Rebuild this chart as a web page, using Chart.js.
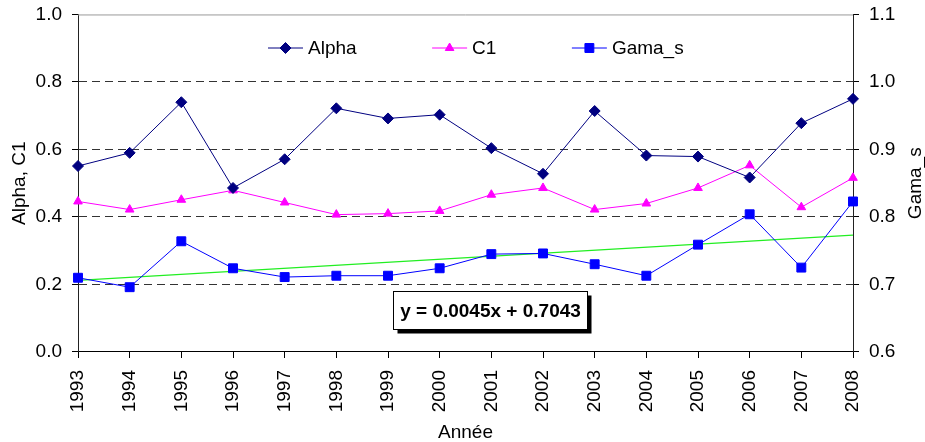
<!DOCTYPE html>
<html>
<head>
<meta charset="utf-8">
<script src="https://cdn.jsdelivr.net/npm/chart.js@4.4.0/dist/chart.umd.min.js"></script>
<style>
html, body { margin: 0; padding: 0; background: #fff; }
</style>
</head>
<body>
<canvas id="chart" width="925" height="442"></canvas>
<script>
const years = ['1993', '1994', '1995', '1996', '1997', '1998', '1999', '2000',
               '2001', '2002', '2003', '2004', '2005', '2006', '2007', '2008'];
const alpha = [0.551, 0.590, 0.740, 0.486, 0.571, 0.722, 0.692, 0.703,
               0.604, 0.528, 0.714, 0.582, 0.579, 0.517, 0.678, 0.750];
const c1 = [0.446, 0.422, 0.451, 0.479, 0.443, 0.407, 0.410, 0.418,
            0.466, 0.486, 0.422, 0.440, 0.486, 0.553, 0.429, 0.516];
const gamaS = [0.710, 0.696, 0.764, 0.724, 0.711, 0.713, 0.713, 0.724,
               0.745, 0.746, 0.730, 0.713, 0.759, 0.804, 0.725, 0.823];
const gamaTrend = [0.706, null, null, null, null, null, null, null,
                   null, null, null, null, null, null, null, 0.773];
const trendLabel = 'y = 0.0045x + 0.7043';
const rightTitle = 'Gama_s';

const FONT = '"Liberation Sans", Arial, sans-serif';
Chart.defaults.font.family = FONT;
Chart.defaults.font.size = 19;
Chart.defaults.color = '#000';

// legend drawn inside the plot: line with marker, then the name
const insideLegend = {
    id: 'insideLegend',
    afterDraw(chart) {
        const ctx = chart.ctx;
        ctx.save();
        ctx.font = '19px ' + FONT;
        ctx.textBaseline = 'middle';
        let x = 268;
        const y = 48;
        chart.data.datasets.forEach(function(ds) {
            if (!ds.pointStyle) return;
            ctx.strokeStyle = ds.borderColor;
            ctx.fillStyle = ds.pointBackgroundColor;
            ctx.lineWidth = 1;
            ctx.beginPath();
            ctx.moveTo(x, y);
            ctx.lineTo(x + 35, y);
            ctx.stroke();
            Chart.helpers.drawPoint(ctx, {
                pointStyle: ds.pointStyle, radius: ds.pointRadius, rotation: 0, borderWidth: 1
            }, x + 17.5, y);
            ctx.fillStyle = '#000';
            ctx.fillText(ds.label, x + 40, y + 1);
            x += 40 + ctx.measureText(ds.label).width + 75.5;
        });
        ctx.restore();
    }
};

// grey top frame, right axis title (reads upwards) and the trend equation box
const extras = {
    id: 'extras',
    afterDraw(chart) {
        const ctx = chart.ctx;
        const a = chart.chartArea;
        ctx.save();
        ctx.strokeStyle = '#999';
        ctx.lineWidth = 1;
        ctx.beginPath();
        ctx.moveTo(a.left, a.top + 0.5);
        ctx.lineTo(a.right, a.top + 0.5);
        ctx.stroke();

        ctx.save();
        ctx.translate(916, (a.top + a.bottom) / 2);
        ctx.rotate(-Math.PI / 2);
        ctx.fillStyle = '#000';
        ctx.font = '19px ' + FONT;
        ctx.textAlign = 'center';
        ctx.textBaseline = 'middle';
        ctx.fillText(rightTitle, 0, 0);
        ctx.restore();

        const bx = 393.5, by = 291.5, bw = 194, bh = 38;
        ctx.fillStyle = '#000';
        ctx.fillRect(bx + 4, by + 4, bw, bh);
        ctx.fillStyle = '#fff';
        ctx.fillRect(bx, by, bw, bh);
        ctx.strokeStyle = '#000';
        ctx.strokeRect(bx, by, bw, bh);
        ctx.fillStyle = '#000';
        ctx.font = 'bold 19px ' + FONT;
        ctx.textAlign = 'center';
        ctx.textBaseline = 'middle';
        ctx.fillText(trendLabel, bx + bw / 2, by + bh / 2 + 1);
        ctx.restore();
    }
};

const ctx = document.getElementById('chart').getContext('2d');
new Chart(ctx, {
    type: 'line',
    data: {
        labels: years,
        datasets: [{
            label: 'Alpha',
            data: alpha,
            yAxisID: 'y',
            borderColor: '#000080',
            backgroundColor: '#000080',
            pointBackgroundColor: '#000080',
            pointBorderColor: '#000080',
            pointStyle: 'rectRot',
            pointRadius: 5.5,
            borderWidth: 1,
            tension: 0
        }, {
            label: 'C1',
            data: c1,
            yAxisID: 'y',
            borderColor: '#FF00FF',
            backgroundColor: '#FF00FF',
            pointBackgroundColor: '#FF00FF',
            pointBorderColor: '#FF00FF',
            pointStyle: 'triangle',
            pointRadius: 5,
            borderWidth: 1,
            tension: 0
        }, {
            label: 'Gama_s',
            data: gamaS,
            yAxisID: 'y1',
            borderColor: '#0000FF',
            backgroundColor: '#0000FF',
            pointBackgroundColor: '#0000FF',
            pointBorderColor: '#0000FF',
            pointStyle: 'rect',
            pointRadius: 6.3,
            borderWidth: 1,
            tension: 0
        }, {
            label: 'Tendance',
            data: gamaTrend,
            yAxisID: 'y1',
            borderColor: '#22EE22',
            pointRadius: 0,
            borderWidth: 1.3,
            spanGaps: true,
            tension: 0
        }]
    },
    options: {
        responsive: false,
        animation: false,
        layout: { padding: { top: 0, left: 0, right: 0, bottom: 0 } },
        plugins: {
            legend: { display: false },
            tooltip: { enabled: false }
        },
        scales: {
            x: {
                offset: false,
                grid: { drawOnChartArea: false, drawTicks: true, tickLength: 6, tickColor: '#000' },
                border: { color: '#000', width: 1 },
                ticks: { autoSkip: false, minRotation: 90, maxRotation: 90, padding: 12 },
                title: { display: true, text: 'Année', padding: { top: 0, bottom: 0 }, font: { lineHeight: 1 } },
                afterFit(scale) { scale.height = 90; }
            },
            y: {
                position: 'left',
                min: 0,
                max: 1,
                ticks: {
                    stepSize: 0.2,
                    padding: 10,
                    font: { lineHeight: 0.47 },
                    callback: function(v) { return v.toFixed(1); }
                },
                grid: {
                    color: function(c) {
                        const v = c.tick ? c.tick.value : 0;
                        return (v < 0.01 || v > 0.99) ? 'rgba(0,0,0,0)' : '#333';
                    },
                    borderDash: [8, 5],
                    tickLength: 6,
                    tickColor: '#000',
                    tickBorderDash: []
                },
                border: { color: '#222', width: 1, dash: [8, 5] },
                title: { display: true, text: 'Alpha, C1', padding: { top: 10, bottom: 0 }, font: { lineHeight: 1 } },
                afterFit(scale) { scale.width = 78; }
            },
            y1: {
                position: 'right',
                min: 0.6,
                max: 1.1,
                ticks: {
                    stepSize: 0.1,
                    padding: 10,
                    font: { lineHeight: 0.47 },
                    callback: function(v) { return v.toFixed(1); }
                },
                grid: { drawOnChartArea: false, tickLength: 6, tickColor: '#000' },
                border: { color: '#222', width: 1 },
                title: { display: false },
                afterFit(scale) { scale.width = 72; }
            }
        }
    },
    plugins: [insideLegend, extras]
});
</script>
</body>
</html>
